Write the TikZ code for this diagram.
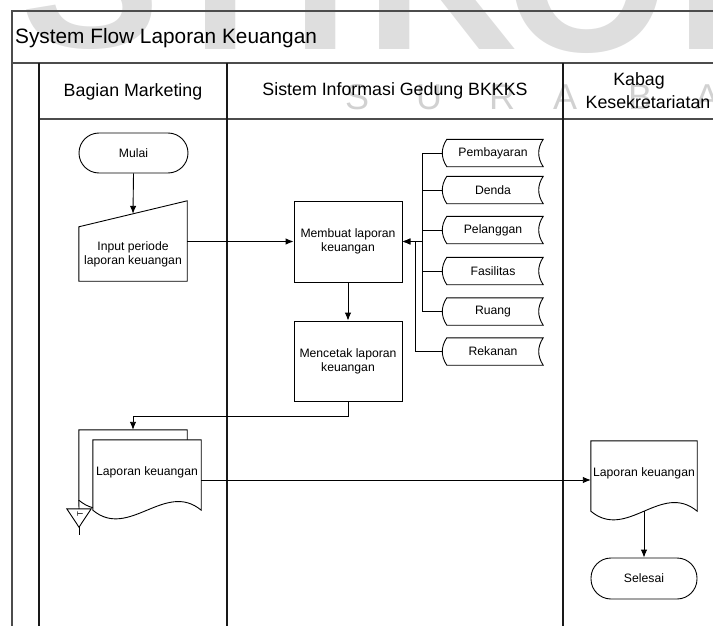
\documentclass[tikz,border=0pt]{standalone}
\usepackage{fontspec}
\setmainfont{Liberation Sans}
\newfontfamily\wmfont{Liberation Sans}
\usetikzlibrary{arrows.meta,calc}
\newcommand\dsmall{\fontsize{12.2}{14}\selectfont}
\newcommand\dhead{\fontsize{17.8}{21}\selectfont}
\newcommand\dtitle{\fontsize{20.8}{23}\selectfont}
\begin{document}
\begin{tikzpicture}[x=1pt,y=-1pt,
  frame/.style={line width=1.3pt, draw=black!70},
  lane/.style={line width=1.3pt, draw=black!90},
  shp/.style={draw=black, line width=0.9pt, fill=white},
  conn/.style={draw=black, line width=0.9pt},
  arr/.style={draw=black, line width=0.9pt, -{Latex[length=8pt,width=6.5pt]}},
  ns/.style={inner sep=1pt, align=center, font=\dsmall},
  box/.style={shp, minimum width=108pt, minimum height=80pt, align=center, font=\dsmall, inner sep=2pt},
  term/.style={shp, rounded corners=20pt, minimum width=109pt, minimum height=40pt, font=\dsmall},
  store/.style={inner sep=0pt, minimum width=100pt, minimum height=27pt, font=\dsmall},
  hdr/.style={inner sep=0pt, align=center, font=\dhead},
  wm/.style={text=black!13, font={\wmfont\bfseries\fontsize{210}{210}\selectfont}, anchor=base west, inner sep=0pt},
  wm2/.style={text=black!18, font={\wmfont\fontsize{36}{36}\selectfont}, anchor=base west, inner sep=0pt}
]
\useasboundingbox (0,0) rectangle (713,626);
% watermark
\begin{scope}
\clip (0,0) rectangle (713,626);
\node[wm] (wS) at (20,48) {S};
\node[wm] (wT) at (156,50) {T};
\node[wm] (wI) at (291,50) {I};
\node[wm] (wK) at (365,50) {K};
\node[wm] (wO) at (505,52) {O};
\node[wm] (wM) at (675,50) {M};
\foreach \l/\xx [count=\i] in {S/345,U/416,R/489,A/553,B/628,A/695}
  \node[wm2] (wsb\i) at (\xx,110) {\l};
\end{scope}
% frame
\draw[frame] (713,11) -- (12,11) -- (12,626);
\draw[frame] (12,63) -- (713,63);
\draw[frame] (39,119) -- (713,119);
\draw[lane] (39,63) -- (39,626);
\draw[lane] (227,63) -- (227,626);
\draw[lane] (563,63) -- (563,626);
\node[anchor=west, inner sep=0pt, font=\dtitle] (title) at (15,38) {System Flow Laporan Keuangan};
\node[hdr] (h1) at (133,92) {Bagian Marketing};
\node[hdr] (h2) at (395,91) {Sistem Informasi Gedung BKKKS};
\node[hdr] (h3a) at (639,81) {Kabag};
\node[hdr] (h3b) at (648,102) {Kesekretariatan};
% Bagian Marketing
\node[term] (mulai) at (133.5,153) {Mulai};
\node[ns, minimum width=108pt, minimum height=54pt] (input) at (133,254) {};
\draw[shp] (input.south west) -- (input.north west) -- ($(input.north east)+(0,-26)$) -- (input.south east) -- cycle;
\node[ns] (inputtext) at (input.center) {Input periode\\laporan keuangan};
\draw[arr] (mulai.south) -- ($(input.north)+(0,-13)$);
% Sistem
\node[box, minimum height=81pt] (membuat) at (348,241.5) {Membuat laporan\\keuangan};
\node[box] (mencetak) at (348,361) {Mencetak laporan\\keuangan};
\draw[arr] (membuat) -- (mencetak);
\draw[arr] (input.east |- membuat.west) -- (membuat.west);
\foreach \n/\t/\yy in {pem/Pembayaran/153, den/Denda/190, pel/Pelanggan/230, fas/Fasilitas/271, rua/Ruang/311.5, rek/Rekanan/351.5}{
  \node[store] (\n) at (493,\yy) {};
  \draw[shp] ($(\n.north west)+(4,0)$) -- (\n.north east)
     .. controls ($(\n.north east)+(-6,9)$) and ($(\n.south east)+(-6,-9)$) .. (\n.south east)
     -- ($(\n.south west)+(4,0)$)
     .. controls ($(\n.south west)+(-2,-9)$) and ($(\n.north west)+(-2,9)$) .. ($(\n.north west)+(4,0)$) -- cycle;
  \node[store] (\n text) at (\n.center) {\t};
}
\coordinate (bus) at (422,0);
\coordinate (rekx) at (415,0);
\foreach \n in {pem,den,pel,fas,rua}
  \draw[conn] (\n.west) -- (\n.west -| bus);
\draw[conn] (pem.west -| bus) -- (rua.west -| bus);
\draw[arr] (rek.west) -| (rekx |- membuat.east) -- (membuat.east);
\draw[arr] (bus |- membuat.east) -- (membuat.east);
% documents
\node[ns, minimum width=108pt, minimum height=80pt] (backdoc) at (133,470) {};
\node[ns, minimum width=108pt, minimum height=80pt] (lap1) at (147,480) {};
\node[ns, minimum width=106pt, minimum height=80pt] (lap2) at (644,481) {};
\foreach \d in {backdoc,lap1,lap2}
  \draw[shp] (\d.north west) -- (\d.north east) -- ($(\d.south east)+(0,-10)$)
     .. controls ($(\d.south east)+(-36,-40)$) and ($(\d.south west)+(36,20)$) .. ($(\d.south west)+(0,-10)$) -- cycle;
\node[ns] (lap1text) at ($(lap1.center)+(0,-8)$) {Laporan keuangan};
\node[ns] (lap2text) at ($(lap2.center)+(0,-8)$) {Laporan keuangan};
\draw[arr] (mencetak.south) -- ++(0,15) -| (backdoc.north);
% archive triangle
\node[inner sep=0pt, minimum width=24pt, minimum height=18pt] (arsip) at (79,518) {};
\draw[shp] (arsip.north west) -- (arsip.north east) -- (arsip.south) -- cycle;
\node[inner sep=0pt, font=\fontsize{8}{8}\selectfont, rotate=90] (arsipT) at (80,514.5) {T};
\draw[conn] ($(backdoc.south west)+(0,-10)$) -- (arsip.north);
\draw[conn] (arsip.south) -- ++(0,8);
% Kabag
\draw[arr] (lap1.east) -- (lap1.east -| lap2.west);
\node[term, minimum width=106pt, minimum height=41pt] (selesai) at (644,578.5) {Selesai};
\draw[arr] ($(lap2.south)+(0,-10)$) -- (selesai.north);
\end{tikzpicture}
\end{document}
